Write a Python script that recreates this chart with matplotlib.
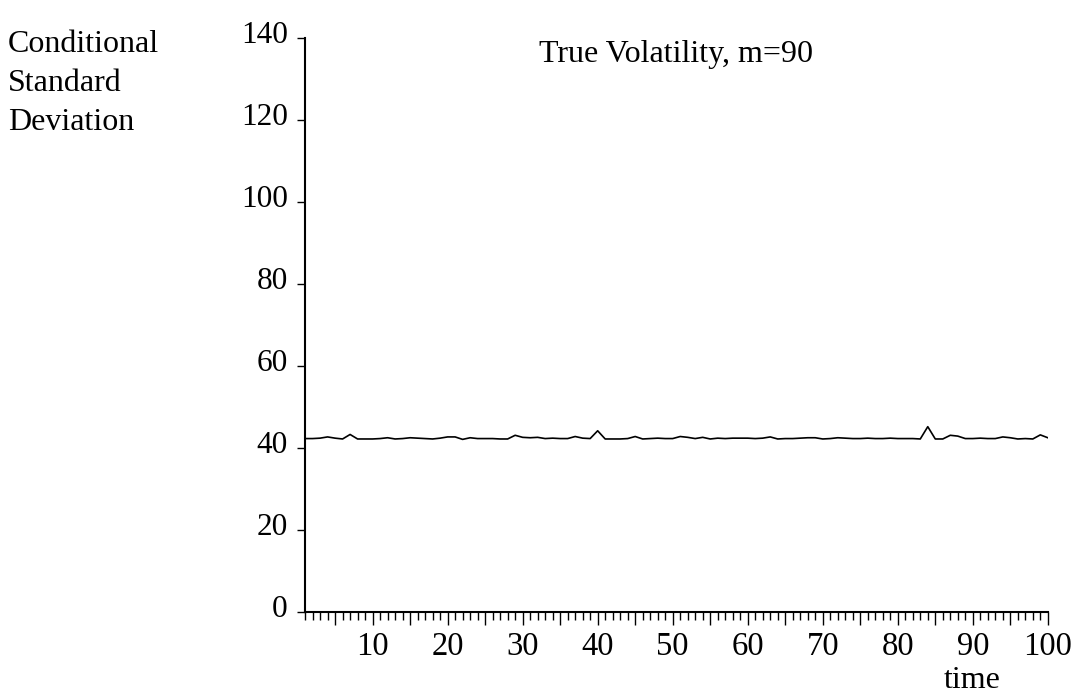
import matplotlib
matplotlib.use("Agg")
import matplotlib.pyplot as plt
import matplotlib.transforms as mtransforms

time = list(range(1, 101))
volatility = [
    42.3, 42.3, 42.4, 42.7, 42.4, 42.2, 43.3, 42.2, 42.2, 42.2,
    42.3, 42.5, 42.2, 42.3, 42.5, 42.4, 42.3, 42.2, 42.4, 42.7,
    42.7, 42.1, 42.5, 42.3, 42.3, 42.3, 42.2, 42.2, 43.1, 42.6,
    42.5, 42.6, 42.3, 42.4, 42.3, 42.3, 42.8, 42.4, 42.3, 44.2,
    42.2, 42.2, 42.2, 42.3, 42.8, 42.2, 42.3, 42.4, 42.3, 42.3,
    42.8, 42.6, 42.3, 42.6, 42.2, 42.4, 42.3, 42.4, 42.4, 42.4,
    42.3, 42.4, 42.7, 42.2, 42.3, 42.3, 42.4, 42.5, 42.5, 42.2,
    42.3, 42.5, 42.4, 42.3, 42.3, 42.4, 42.3, 42.3, 42.4, 42.3,
    42.3, 42.3, 42.2, 45.2, 42.2, 42.2, 43.1, 42.9, 42.3, 42.3,
    42.4, 42.3, 42.3, 42.7, 42.5, 42.2, 42.3, 42.2, 43.2, 42.5,
]
yticks = [0, 20, 40, 60, 80, 100, 120, 140]
xticks = [10, 20, 30, 40, 50, 60, 70, 80, 90, 100]

plt.rcParams['font.family'] = ['Liberation Serif', 'DejaVu Serif']

fig = plt.figure(figsize=(10.78, 6.98), dpi=100)
ax = fig.add_axes([0.283, 0.1232, 0.972 - 0.283, 0.9456 - 0.1232])
ax.plot(time, volatility, color='black', linewidth=1.2)

ax.set_xlim(1, 100)
ax.set_ylim(0, 140)
ax.spines['top'].set_visible(False)
ax.spines['right'].set_visible(False)
ax.spines['left'].set_linewidth(1.5)
ax.spines['bottom'].set_linewidth(1.5)

ax.set_yticks(yticks)
ax.set_yticklabels([str(v) for v in yticks])
ax.tick_params(axis='y', direction='out', length=5.5, width=1.0, labelsize=22.5, pad=7)

major_pos = list(range(5, 101, 5))
ax.set_xticks(major_pos)
ax.set_xticklabels([str(v) if v in xticks else '' for v in major_pos])
ax.set_xticks([t for t in time if t % 5 != 0], minor=True)
ax.tick_params(axis='x', which='major', direction='out', length=9, width=1.0, labelsize=23.5, pad=5)
ax.tick_params(axis='x', which='minor', direction='out', length=6, width=1.0)

offset = mtransforms.ScaledTranslation(0, 6 / 100, fig.dpi_scale_trans)
for lbl in ax.get_yticklabels():
    lbl.set_transform(lbl.get_transform() + offset)

ax.text(0.5, 0.972, 'True Volatility, m=90', transform=ax.transAxes,
        ha='center', va='center', fontsize=23)
fig.text(8 / 1078, 1 - 30 / 698, 'Conditional\nStandard\nDeviation',
         ha='left', va='top', fontsize=23, linespacing=1.45)
fig.text(972 / 1078, 1 - 680 / 698, 'time', ha='center', va='center', fontsize=23)

fig.savefig('out.png', dpi=100)
